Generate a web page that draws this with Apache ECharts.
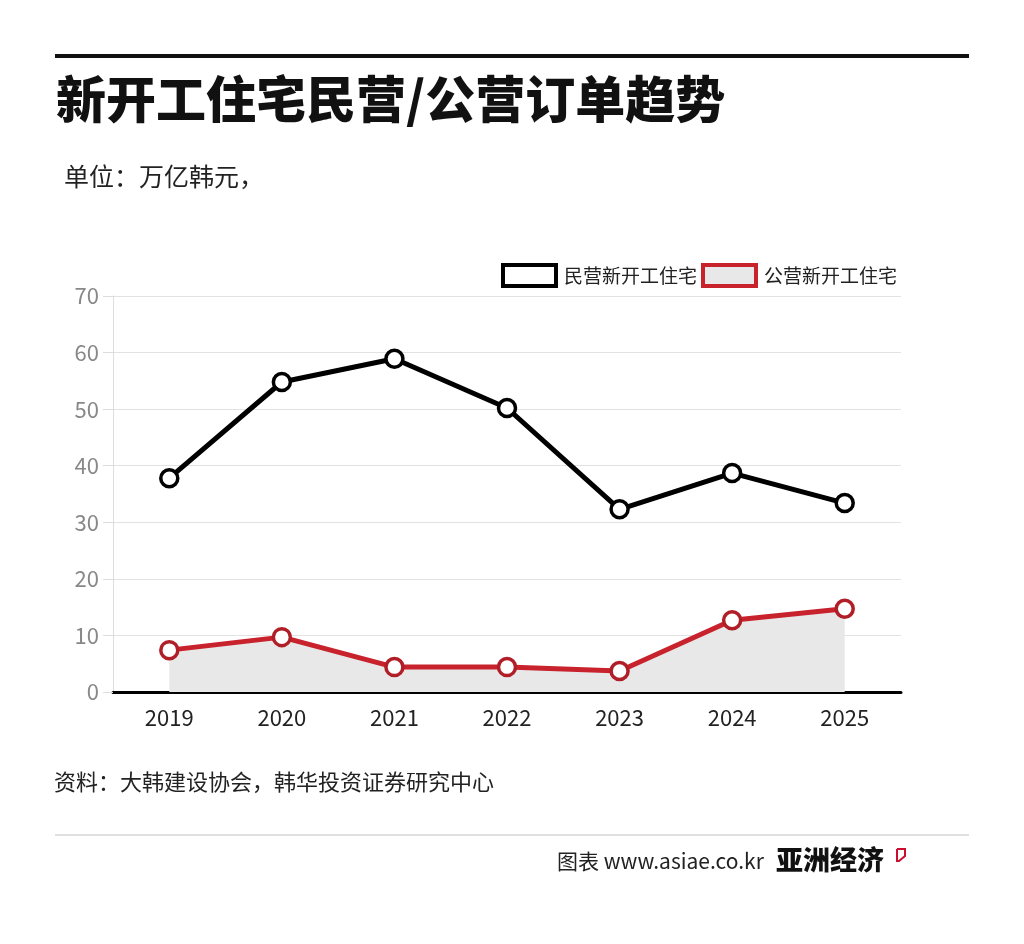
<!DOCTYPE html>
<html><head><meta charset="utf-8">
<script src="https://cdn.jsdelivr.net/npm/echarts@6/dist/echarts.min.js"></script>
<style>html,body{margin:0;padding:0;background:#fff}#c{width:1024px;height:944px}</style>
</head><body><div id="c"></div>
<script>
const categories = ['2019','2020','2021','2022','2023','2024','2025'];
const privateStarts = [37.8, 54.8, 58.9, 50.2, 32.3, 38.7, 33.4];
const publicStarts = [7.4, 9.7, 4.4, 4.4, 3.7, 12.7, 14.7];
const seriesNames = ['民营新开工住宅', '公营新开工住宅'];
const yTicks = [0, 10, 20, 30, 40, 50, 60, 70];

const FONT = '"Noto Sans CJK SC", "Noto Sans", sans-serif';
const chart = echarts.init(document.getElementById('c'));
chart.setOption({
  backgroundColor: '#fff',
  animation: false,
  textStyle: { fontFamily: FONT },
  graphic: [
    { type: 'rect', shape: { x: 55, y: 54, width: 914, height: 4 }, style: { fill: '#111' } },
    { type: 'text', left: 56, top: 74, style: { text: '新开工住宅民营/公营订单趋势', font: '900 50px ' + FONT, fill: '#111' } },
    { type: 'text', left: 64, top: 164, style: { text: '单位：万亿韩元，', font: '400 25px ' + FONT, fill: '#222' } },
    { type: 'text', left: 54, top: 771, style: { text: '资料：大韩建设协会，韩华投资证券研究中心', font: '400 22px ' + FONT, fill: '#222' } },
    { type: 'rect', shape: { x: 55, y: 834, width: 914, height: 2 }, style: { fill: '#e0e0e0' } },
    { type: 'text', left: 557, top: 851, style: { text: '图表 www.asiae.co.kr', font: '400 21px ' + FONT, fill: '#222' } },
    { type: 'text', left: 776, top: 846, style: { text: '亚洲经济', font: '900 27px ' + FONT, fill: '#111' } },
    { type: 'polyline', shape: { points: [[897, 849], [905, 849], [905, 856], [899, 861], [897, 861], [897, 849]] }, style: { fill: 'none', stroke: '#c8102e', lineWidth: 2 } }
  ],
  legend: {
    right: 122, top: 258,
    itemWidth: 53, itemHeight: 21, itemGap: 4,
    icon: 'rect',
    textStyle: { fontSize: 19, color: '#222', fontFamily: FONT, padding: [0, 0, 0, 3] },
    data: [
      { name: seriesNames[0], itemStyle: { color: '#fff', borderColor: '#000', borderWidth: 4 } },
      { name: seriesNames[1], itemStyle: { color: '#e8e8e8', borderColor: '#c8232c', borderWidth: 4 } }
    ]
  },
  grid: { left: 113, right: 123, top: 296, bottom: 252, containLabel: false },
  xAxis: {
    type: 'category', data: categories, boundaryGap: true,
    axisLine: { lineStyle: { color: '#000', width: 3 } },
    axisTick: { show: false },
    axisLabel: { fontSize: 22, color: '#222', margin: 15, fontFamily: FONT }
  },
  yAxis: {
    type: 'value', min: 0, max: 70, interval: 10,
    axisLine: { show: true, lineStyle: { color: '#ddd', width: 1 } },
    axisTick: { show: true, length: 10, lineStyle: { color: '#ddd' } },
    splitLine: { lineStyle: { color: '#e2e2e2', width: 1 } },
    axisLabel: { fontSize: 22, color: '#888', margin: 14, fontFamily: FONT,
      formatter: v => yTicks.includes(v) ? String(v) : '' }
  },
  series: [
    {
      name: seriesNames[0], type: 'line', data: privateStarts,
      symbol: 'circle', symbolSize: 17, showAllSymbol: true,
      lineStyle: { color: '#000', width: 5 },
      itemStyle: { color: '#fff', borderColor: '#000', borderWidth: 3.5 },
      z: 3
    },
    {
      name: seriesNames[1], type: 'line', data: publicStarts,
      symbol: 'circle', symbolSize: 17, showAllSymbol: true,
      lineStyle: { color: '#c8232c', width: 5 },
      itemStyle: { color: '#fff', borderColor: '#b01e28', borderWidth: 3.5 },
      areaStyle: { color: '#e8e8e8', opacity: 1 },
      z: 2
    }
  ]
});
</script></body></html>
